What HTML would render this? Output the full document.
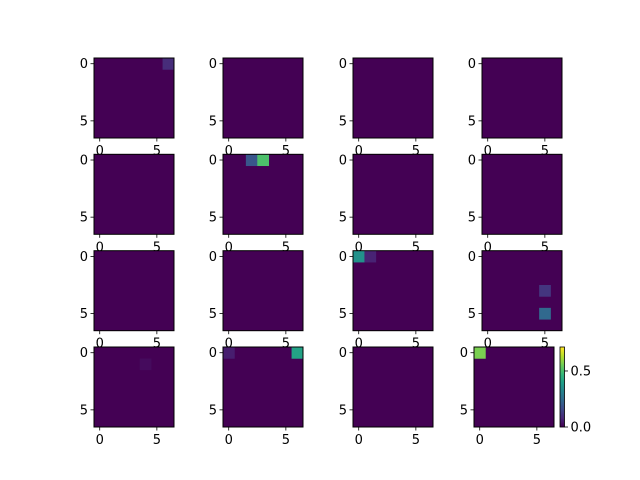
<!DOCTYPE html>
<html><head><meta charset="utf-8"><style>
body{margin:0;background:#fff}
svg{display:block;font-family:"DejaVu Sans","Liberation Sans",sans-serif}
</style></head><body>
<svg id="fig" width="640" height="480" viewBox="0 0 640 480"></svg>
<script>
// Data: 16 panels of 7x7, sparse nonzero cells [row, col, value]
const panelCells = [
 [[0,6,0.09]], [], [], [],
 [], [[0,2,0.19],[0,3,0.51]], [], [],
 [], [], [[0,0,0.36],[0,1,0.07]], [[3,5,0.11],[5,5,0.24]],
 [[1,4,0.02]], [[0,0,0.06],[0,6,0.41]], [], [[0,0,0.57]]
];
const vMin = 0, vMax = 0.714;
const tickLabels = ["0","5"];
const tickValues = [0,5];
const cbTicks = [0,0.5];
const cbTickLabels = ["0.0","0.5"];

const vir=[[68,1,84],[72,40,120],[62,74,137],[49,104,142],[38,130,142],[31,158,137],[53,183,121],[109,205,89],[180,222,44],[253,231,37]];
function viridis(t){t=Math.max(0,Math.min(1,t));const f=t*(vir.length-1),i=Math.min(vir.length-2,Math.floor(f)),r=f-i;
 const c=vir[i].map((v,k)=>Math.round(v+(vir[i+1][k]-v)*r));return `rgb(${c[0]},${c[1]},${c[2]})`;}
const NS="http://www.w3.org/2000/svg", svg=document.getElementById('fig');
function el(tag,attrs,parent){const e=document.createElementNS(NS,tag);for(const k in attrs)e.setAttribute(k,attrs[k]);(parent||svg).appendChild(e);return e;}
const colX=[94,223,353,482], rowY=[58,154.3,250.7,347], S=80, N=7, cs=S/N;
panelCells.forEach((cells,p)=>{
 const r=Math.floor(p/4), c=p%4;
 const x0=(p===15)?474:colX[c], y0=rowY[r];
 const g=el('g',{});
 
 
 const bg=el('rect',{x:x0,y:y0,width:S,height:S,fill:viridis(0)},g);
 const sx=v=>x0+(v+0.5)*cs, sy=v=>y0+(v+0.5)*cs;
 cells.forEach(([rr,cc,v])=>{
  const cell=el('rect',{x:sx(cc)-cs/2,y:sy(rr)-cs/2,width:cs+0.3,height:cs+0.3,fill:viridis((v-vMin)/(vMax-vMin))},g);
  
  
 });
 el('rect',{x:x0,y:y0,width:S,height:S,fill:'none',stroke:'#000','stroke-width':1},g);
 tickValues.forEach((t,i)=>{
  const xx=sx(t);
  el('line',{x1:xx,x2:xx,y1:y0+S,y2:y0+S+3.5,stroke:'#000','stroke-width':0.8},g);
  const tx=el('text',{x:xx,y:y0+S+17,'font-size':13,'text-anchor':'middle'},g);tx.textContent=tickLabels[i];
  
  
  const yy=sy(t);
  el('line',{x1:x0-3.5,x2:x0,y1:yy,y2:yy,stroke:'#000','stroke-width':0.8},g);
  const ty=el('text',{x:x0-6,y:yy+4.5,'font-size':13,'text-anchor':'end'},g);ty.textContent=tickLabels[i];
  
  
 });
});
// colorbar
const cb=el('g',{});


const cbx=560, cby=347, cbw=4.5, cbh=80;
for(let i=0;i<80;i++){el('rect',{x:cbx,y:cby+cbh-(i+1),width:cbw,height:1.2,fill:viridis(i/79)},cb);}
el('rect',{x:cbx,y:cby,width:cbw,height:cbh,fill:'none',stroke:'#000','stroke-width':0.8},cb);
cbTicks.forEach((t,i)=>{
 const yy=cby+cbh-(t-vMin)/(vMax-vMin)*cbh;
 el('line',{x1:cbx+cbw,x2:cbx+cbw+3.5,y1:yy,y2:yy,stroke:'#000','stroke-width':0.8},cb);
 const tx=el('text',{x:cbx+cbw+6,y:yy+4.5,'font-size':13},cb);tx.textContent=cbTickLabels[i];
 
 
});
</script>
</body></html>
